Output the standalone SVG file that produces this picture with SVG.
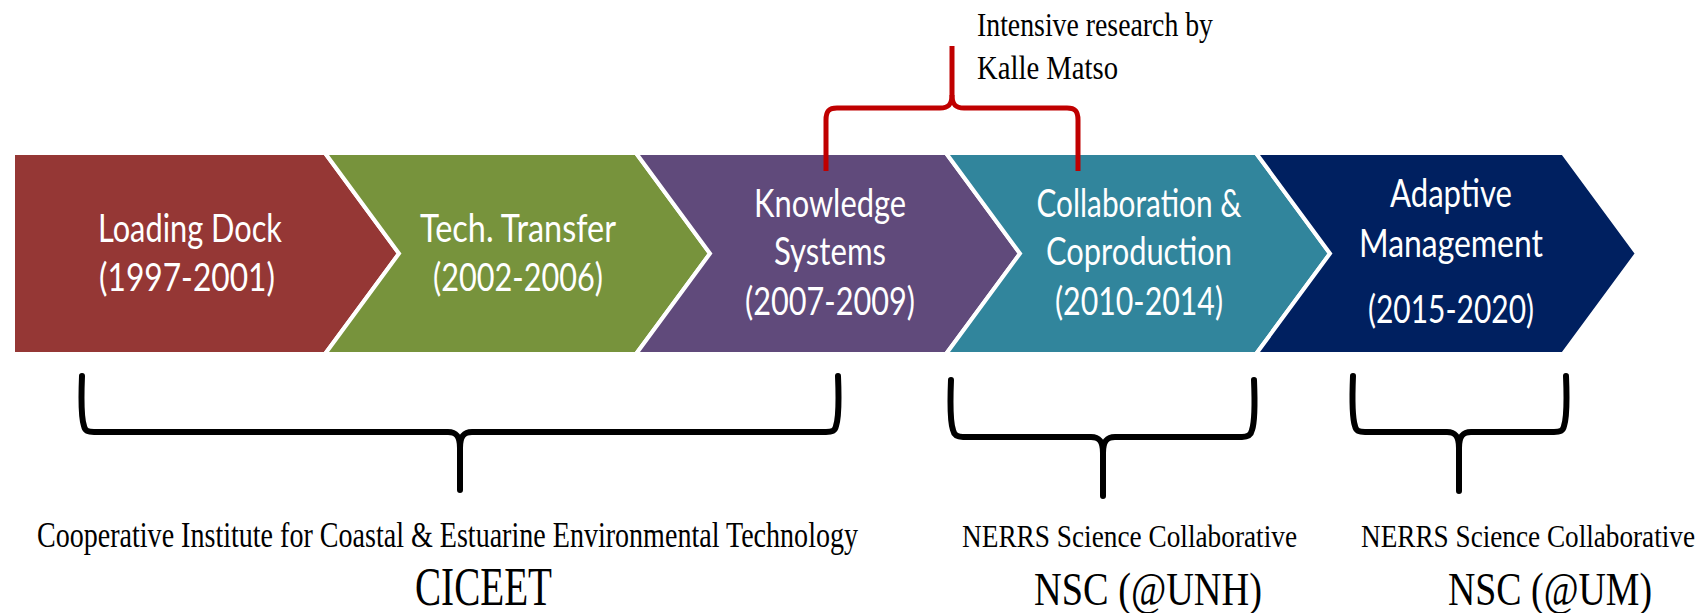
<svg xmlns="http://www.w3.org/2000/svg" width="1701" height="613" viewBox="0 0 1701 613">
<style>
.chev{stroke:#ffffff;stroke-width:4;stroke-linejoin:miter}
.lbl{font-family:Lato,"Open Sans",sans-serif;font-size:38px;fill:#ffffff;text-anchor:middle}
.ser{font-family:"Liberation Serif","Times New Roman",serif;fill:#000000}
.brace{fill:none;stroke:#000000;stroke-width:6;stroke-linecap:round;stroke-linejoin:round}
.rbrace{fill:none;stroke:#C00000;stroke-width:5;stroke-linecap:butt;stroke-linejoin:round}
</style>
<rect width="1701" height="613" fill="#ffffff"/>
<g id="chevrons">
<g id="loading-dock">
<polygon class="chev" fill="#953735" points="13,153 325,153 399,253.5 325,354 13,354"/>
<text class="lbl" x="190" y="242" textLength="184" lengthAdjust="spacingAndGlyphs">Loading Dock</text>
<text class="lbl" x="187" y="291" textLength="176" lengthAdjust="spacingAndGlyphs">(1997-2001)</text>
</g>
<g id="tech-transfer">
<polygon class="chev" fill="#77933C" points="325,153 636,153 710,253.5 636,354 325,354 399,253.5"/>
<text class="lbl" x="518" y="242" textLength="196" lengthAdjust="spacingAndGlyphs">Tech. Transfer</text>
<text class="lbl" x="518" y="291" textLength="170" lengthAdjust="spacingAndGlyphs">(2002-2006)</text>
</g>
<g id="knowledge-systems">
<polygon class="chev" fill="#604A7B" points="636,153 946,153 1020,253.5 946,354 636,354 710,253.5"/>
<text class="lbl" x="830" y="217" textLength="152" lengthAdjust="spacingAndGlyphs">Knowledge</text>
<text class="lbl" x="830" y="265" textLength="112" lengthAdjust="spacingAndGlyphs">Systems</text>
<text class="lbl" x="830" y="315" textLength="170" lengthAdjust="spacingAndGlyphs">(2007-2009)</text>
</g>
<g id="collaboration">
<polygon class="chev" fill="#31859C" points="946,153 1256,153 1330,253.5 1256,354 946,354 1020,253.5"/>
<text class="lbl" x="1139" y="217" textLength="205" lengthAdjust="spacingAndGlyphs">Collaboration &amp;</text>
<text class="lbl" x="1139" y="265" textLength="186" lengthAdjust="spacingAndGlyphs">Coproduction</text>
<text class="lbl" x="1139" y="315" textLength="168" lengthAdjust="spacingAndGlyphs">(2010-2014)</text>
</g>
<g id="adaptive-management">
<polygon class="chev" fill="#002060" points="1256,153 1563,153 1637,253.5 1563,354 1256,354 1330,253.5"/>
<text class="lbl" x="1451" y="207" textLength="122" lengthAdjust="spacingAndGlyphs">Adaptive</text>
<text class="lbl" x="1451" y="257" textLength="184" lengthAdjust="spacingAndGlyphs">Management</text>
<text class="lbl" x="1451" y="323" textLength="166" lengthAdjust="spacingAndGlyphs">(2015-2020)</text>
</g>
</g>
<g id="connectors">
<g id="red-brace">
<path class="rbrace" d="M 826 171 L 826 120 C 826 111 829 108 837 108 L 940 108 C 949 108 952 104 952 95 L 952 46"/>
<path class="rbrace" d="M 1078 171 L 1078 120 C 1078 111 1075 108 1067 108 L 964 108 C 955 108 952 104 952 95"/>
</g>
<g id="brace-ciceet">
<path class="brace" d="M 82 376 C 81 400 82 420 84 426 C 85 431 88 432 94 432 L 448 432 C 456 432 460 436 460 448 L 460 490"/>
<path class="brace" d="M 838 376 C 839 400 838 420 836 426 C 835 431 832 432 826 432 L 472 432 C 464 432 460 436 460 448"/>
</g>
<g id="brace-unh">
<path class="brace" d="M 951 380 C 950 404 951 424 953 430 C 954 435 957 437 963 437 L 1091 437 C 1099 437 1103 441 1103 453 L 1103 496"/>
<path class="brace" d="M 1254 380 C 1255 404 1254 424 1252 430 C 1251 435 1248 437 1242 437 L 1115 437 C 1107 437 1103 441 1103 453"/>
</g>
<g id="brace-um">
<path class="brace" d="M 1353 376 C 1352 400 1353 420 1355 426 C 1356 431 1359 432 1365 432 L 1447 432 C 1455 432 1459 436 1459 448 L 1459 491"/>
<path class="brace" d="M 1566 376 C 1567 400 1566 420 1564 426 C 1563 431 1560 432 1554 432 L 1471 432 C 1463 432 1459 436 1459 448"/>
</g>
</g>
<g id="label-kalle">
<text class="ser" x="977" y="36" font-size="34" textLength="236" lengthAdjust="spacingAndGlyphs">Intensive research by</text>
<text class="ser" x="977" y="79" font-size="34" textLength="141" lengthAdjust="spacingAndGlyphs">Kalle Matso</text>
</g>
<g id="label-ciceet">
<text class="ser" x="37" y="547" font-size="36" textLength="821" lengthAdjust="spacingAndGlyphs">Cooperative Institute for Coastal &amp; Estuarine Environmental Technology</text>
<text class="ser" x="415" y="605" font-size="54" textLength="137" lengthAdjust="spacingAndGlyphs">CICEET</text>
</g>
<g id="label-unh">
<text class="ser" x="962" y="547" font-size="32" textLength="335" lengthAdjust="spacingAndGlyphs">NERRS Science Collaborative</text>
<text class="ser" x="1034" y="605" font-size="46" textLength="228" lengthAdjust="spacingAndGlyphs">NSC (@UNH)</text>
</g>
<g id="label-um">
<text class="ser" x="1361" y="547" font-size="32" textLength="334" lengthAdjust="spacingAndGlyphs">NERRS Science Collaborative</text>
<text class="ser" x="1448" y="605" font-size="46" textLength="204" lengthAdjust="spacingAndGlyphs">NSC (@UM)</text>
</g>
</svg>
